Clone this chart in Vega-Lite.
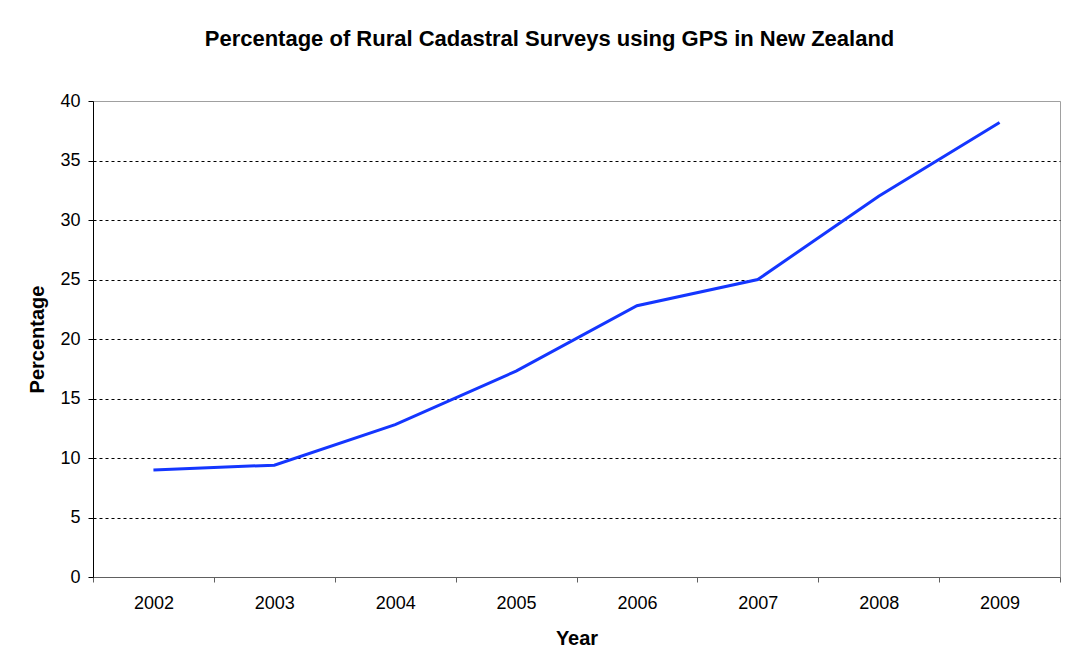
{
  "$schema": "https://vega.github.io/schema/vega-lite/v6.json",
  "autosize": {"type": "none"},
  "width": 967,
  "height": 476,
  "padding": {"left": 93, "top": 101, "right": 23, "bottom": 91},
  "background": "white",
  "title": {
    "text": "Percentage of Rural Cadastral Surveys using GPS in New Zealand",
    "font": "Liberation Sans",
    "fontSize": 22,
    "fontWeight": "bold",
    "color": "black",
    "anchor": "middle",
    "frame": "group",
    "dx": -27,
    "offset": 41
  },
  "config": {
    "view": {"stroke": "#a0a0a0", "strokeWidth": 1},
    "axis": {
      "labelFont": "Liberation Sans",
      "labelFontSize": 18,
      "labelColor": "black",
      "titleFont": "Liberation Sans",
      "titleFontSize": 20,
      "titleFontWeight": "bold",
      "titleColor": "black"
    }
  },
  "data": {
    "values": [
      {"Year": 2002, "Percentage": 9.0},
      {"Year": 2003, "Percentage": 9.4},
      {"Year": 2004, "Percentage": 12.8},
      {"Year": 2005, "Percentage": 17.3},
      {"Year": 2006, "Percentage": 22.8},
      {"Year": 2007, "Percentage": 25.0},
      {"Year": 2008, "Percentage": 32.0},
      {"Year": 2009, "Percentage": 38.2}
    ]
  },
  "mark": {"type": "line", "color": "#1436ff", "strokeWidth": 3},
  "encoding": {
    "x": {
      "field": "Year",
      "type": "quantitative",
      "scale": {"domain": [2001.5, 2009.5], "nice": false, "zero": false},
      "axis": {
        "title": "Year",
        "values": [2001.5, 2002.5, 2003.5, 2004.5, 2005.5, 2006.5, 2007.5, 2008.5, 2009.5],
        "labelExpr": "datum.value < 2009 ? format(datum.value + 0.5, 'd') : ''",
        "labelOffset": 60.4,
        "labelFlush": false,
        "labelOverlap": false,
        "labelBound": false,
        "labelPadding": 12,
        "grid": false,
        "domainColor": "#606060",
        "tickColor": "#606060",
        "tickSize": 5,
        "titlePadding": 16
      }
    },
    "y": {
      "field": "Percentage",
      "type": "quantitative",
      "scale": {"domain": [0, 40], "nice": false},
      "axis": {
        "title": "Percentage",
        "values": [0, 5, 10, 15, 20, 25, 30, 35, 40],
        "grid": true,
        "gridColor": "black",
        "gridDash": [3, 3],
        "gridOpacity": {"condition": {"test": "datum.value == 0 || datum.value == 40", "value": 0}, "value": 1},
        "domainColor": "black",
        "tickColor": "black",
        "tickSize": 5,
        "labelPadding": 8,
        "titlePadding": 12
      }
    }
  }
}
